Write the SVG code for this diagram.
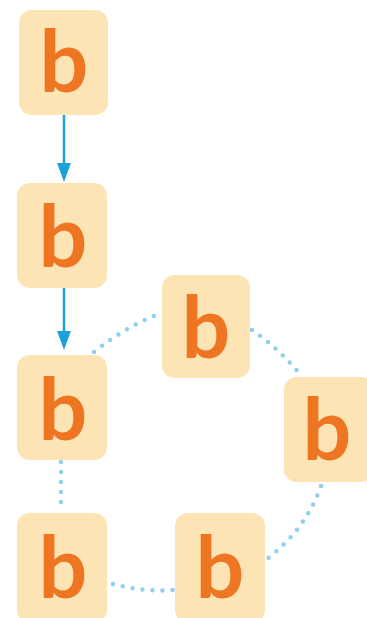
<svg xmlns="http://www.w3.org/2000/svg" width="367" height="618" viewBox="0 0 367 618">
<style>
.box{fill:#FCE4B5;}
.lt{font-family:Lato,"Liberation Sans",Arial,sans-serif;font-weight:bold;font-size:86px;fill:#EE7623;text-anchor:middle;}
.arr{stroke:#1EA0DB;stroke-width:2.5;fill:none;}
.dot{stroke:#8FD0EE;stroke-width:4.5;fill:none;stroke-linecap:round;stroke-dasharray:0 10;}
</style>
<rect width="367" height="618" fill="#FFFFFF"/>
<g id="connectors">
<line x1="64" y1="105" x2="64" y2="164" class="arr"/>
<path d="M57,163 L71,163 L64,182 Z" fill="#1EA0DB"/>
<line x1="64" y1="282" x2="64" y2="332" class="arr"/>
<path d="M57,331 L71,331 L64,350 Z" fill="#1EA0DB"/>
<path class="dot" d="M94,352 Q125,327 159,314"/>
<path class="dot" d="M252,330 Q278,348 299,373"/>
<path class="dot" d="M321,486 Q305,530 268,558"/>
<path class="dot" d="M113,584 Q143,592 173,590"/>
<path class="dot" d="M61,462 L61,512"/>
</g>
<g id="n1"><rect class="box" x="19" y="10" width="89" height="105" rx="13"/><text class="lt" x="64" y="92">b</text></g>
<g id="n2"><rect class="box" x="17" y="183" width="90" height="105" rx="13"/><text class="lt" x="63" y="267">b</text></g>
<g id="n3"><rect class="box" x="17" y="355" width="90" height="105" rx="13"/><text class="lt" x="63" y="440">b</text></g>
<g id="n4"><rect class="box" x="17" y="513" width="90" height="110" rx="13"/><text class="lt" x="63" y="598">b</text></g>
<g id="n5"><rect class="box" x="162" y="275" width="88" height="103" rx="13"/><text class="lt" x="206" y="358">b</text></g>
<g id="n6"><rect class="box" x="284" y="377" width="90" height="105" rx="13"/><text class="lt" x="327" y="460">b</text></g>
<g id="n7"><rect class="box" x="175" y="513" width="90" height="110" rx="13"/><text class="lt" x="220" y="598">b</text></g>
</svg>
